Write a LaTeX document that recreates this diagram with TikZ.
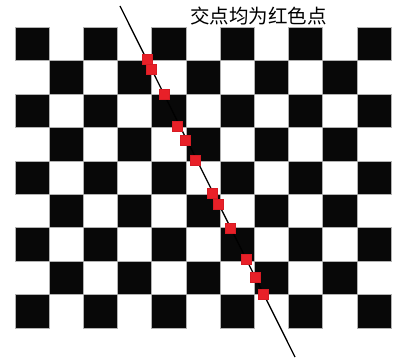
\documentclass[tikz,border=0pt]{standalone}
\usepackage{fontspec}
\newfontfamily\cjk{Noto Sans CJK SC}
\definecolor{ptred}{RGB}{232,32,40}
\definecolor{ptedge}{RGB}{215,28,36}
\begin{document}
\begin{tikzpicture}[x=1pt,y=-1pt,
  blk/.style={fill=black!97,draw=gray!60,line width=0.5pt},
  redpt/.style={fill=ptred,draw=ptedge,line width=0.3pt,minimum size=10pt,inner sep=0pt,outer sep=0pt,rectangle}]
\useasboundingbox (0,0) rectangle (397,361);
\fill[white] (0,0) rectangle (397,361);
\def\cw{34.18}
\def\rh{33.44}
\foreach \r in {0,...,8}{
  \foreach \c in {0,...,10}{
    \pgfmathtruncatemacro{\parity}{mod(\r+\c,2)}
    \ifnum\parity=0
      \draw[blk] ({15+\c*\cw},{27+\r*\rh}) rectangle ({15+(\c+1)*\cw},{27+(\r+1)*\rh});
    \fi
  }
}
\coordinate (ls) at (120,6);
\coordinate (le) at (295,357);
\draw[line width=1.3pt,black] (ls) -- (le);
\foreach \x/\y [count=\i] in {146.7/59,151/69,164.3/94.3,177/125.7,185/140,195.5/160,211.7/192.7,217.7/204.3,230/227.7,246/259.3,255/276.7,263.3/294}{
  \node[redpt] (p\i) at (\x,\y) {};
}
\node[font=\cjk\fontsize{19.5}{20}\selectfont,inner sep=0pt] (title) at (258.5,16.5) {交点均为红色点};
\end{tikzpicture}
\end{document}
